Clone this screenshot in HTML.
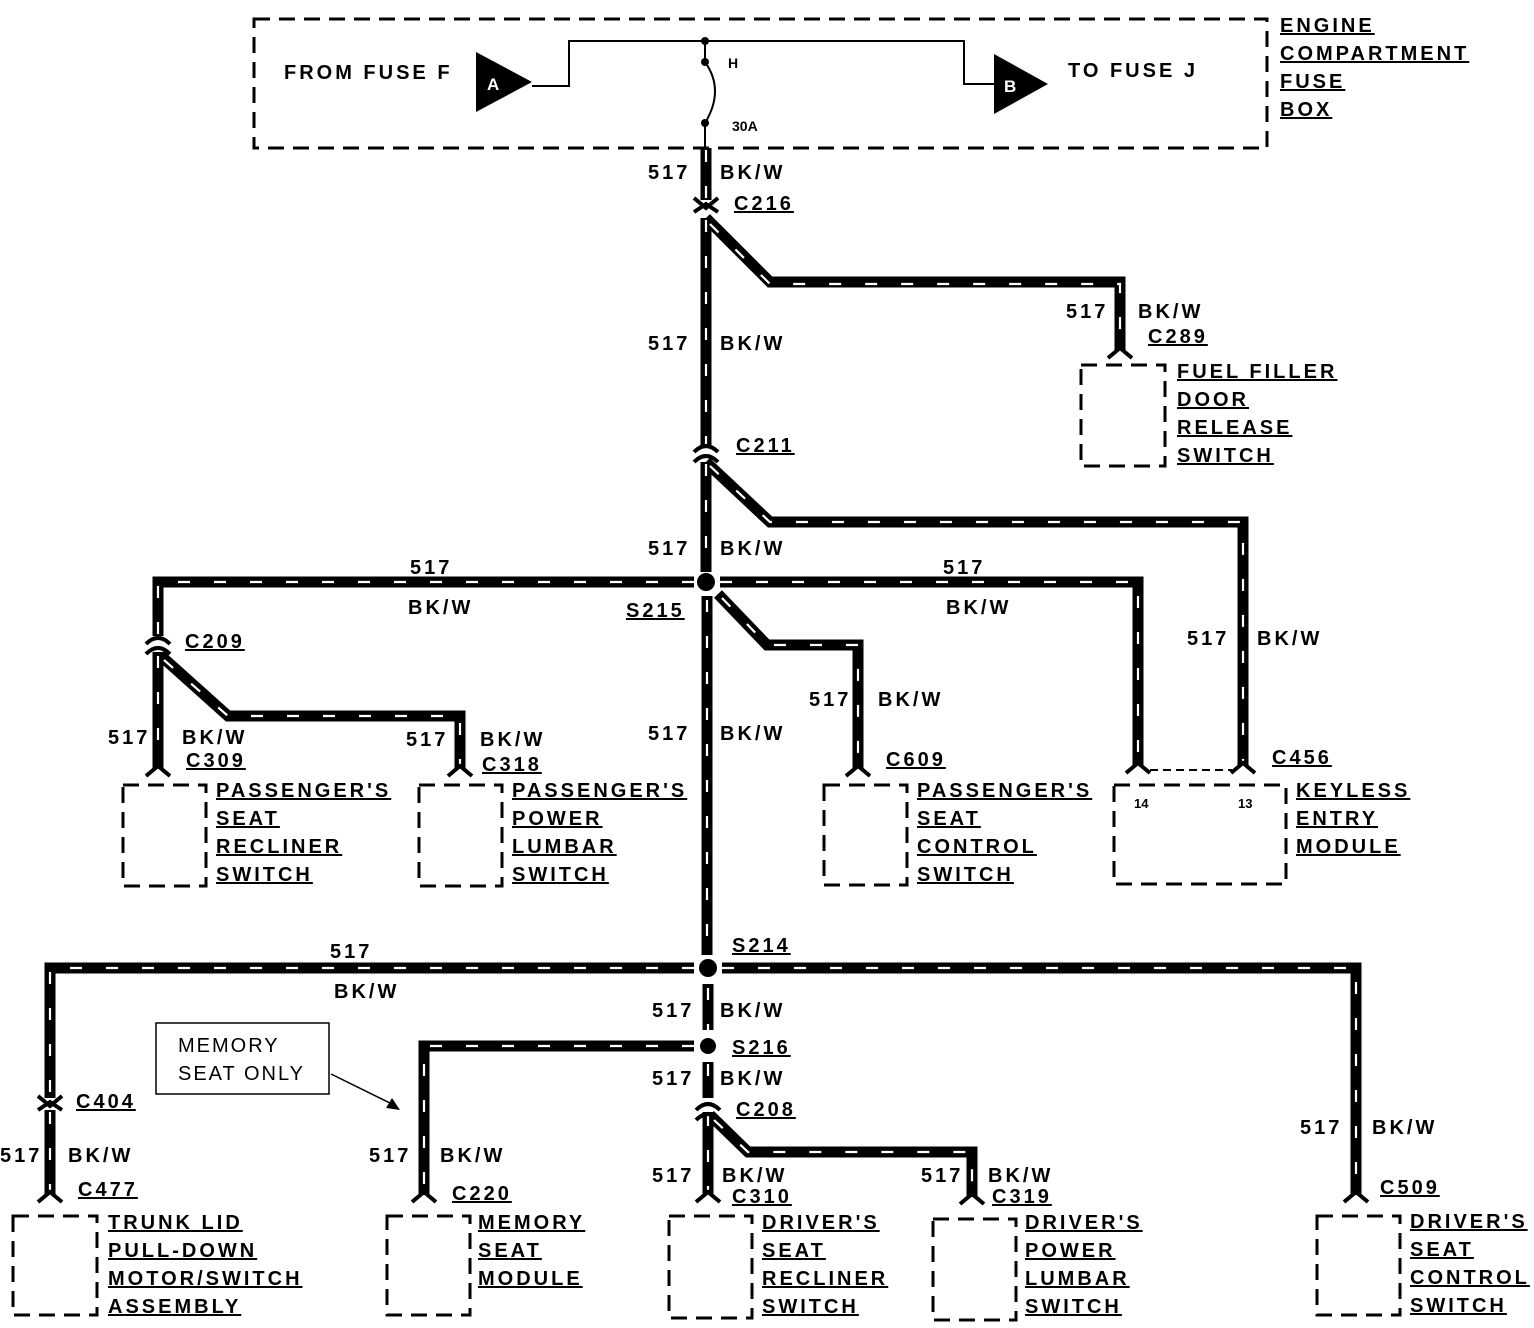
<!DOCTYPE html>
<html><head><meta charset="utf-8"><style>
html,body{margin:0;padding:0;background:#fff}
svg{display:block}
text{font-family:"Liberation Sans",sans-serif;font-weight:bold;font-size:20px;letter-spacing:3px;fill:#000}
.u{text-decoration:underline}
.w{fill:none;stroke:#000;stroke-width:11;stroke-linejoin:miter}
.d{fill:none;stroke:#fff;stroke-width:2.2;stroke-dasharray:12 24}
.b{fill:none;stroke:#000;stroke-width:3;stroke-dasharray:16 9}
.t{fill:none;stroke:#000;stroke-width:2}
.c{fill:none;stroke:#000;stroke-width:4}
</style></head><body>
<svg width="1534" height="1328" viewBox="0 0 1534 1328">
<rect x="254" y="19" width="1013" height="129" class="b"/>
<text x="284" y="79">FROM FUSE F</text>
<polygon points="476,52 476,112 532,82" fill="#000"/>
<text x="487" y="90" style="fill:#fff;font-size:17px;letter-spacing:0">A</text>
<polyline class="t" points="532,86 569,86 569,41 964,41 964,84 994,84"/>
<polygon points="994,54 994,114 1048,84" fill="#000"/>
<text x="1004" y="92" style="fill:#fff;font-size:17px;letter-spacing:0">B</text>
<text x="1068" y="77">TO FUSE J</text>
<circle cx="705" cy="41" r="4"/><circle cx="705" cy="62" r="4"/><circle cx="705" cy="123" r="4"/>
<line x1="705" y1="41" x2="705" y2="62" class="t"/>
<path d="M705,62 Q725,90 705,123" class="t"/>
<line x1="705" y1="123" x2="705" y2="148" class="t"/>
<text x="728" y="68" style="font-size:14px;letter-spacing:0">H</text>
<text x="732" y="131" style="font-size:14px;letter-spacing:0">30A</text>
<text x="1280" y="32" class="u">ENGINE</text>
<text x="1280" y="60" class="u">COMPARTMENT</text>
<text x="1280" y="88" class="u">FUSE</text>
<text x="1280" y="116" class="u">BOX</text>

<g>
<path class="w" d="M706,148 V200"/>
<path class="w" d="M706,218 V445 M706,218 L770,282 H1120 V350"/>
<path class="w" d="M706,462 V572 M706,462 L770,522 H1243 V765"/>
<path class="w" d="M694,582 H158 V636 M720,582 H1138 V765 M718,594 L767,645 H858 V768"/>
<path class="w" d="M158,652 V768 M160,655 L228,716 H460 V768"/>
<path class="w" d="M707,596 V955"/>
<path class="w" d="M694,968 H50 V1098 M50,1110 V1195 M722,968 H1356 V1195"/>
<path class="w" d="M708,984 V1030"/>
<path class="w" d="M694,1046 H424 V1195"/>
<path class="w" d="M708,1062 V1098"/>
<path class="w" d="M708,1112 V1195 M710,1115 L748,1152 H972 V1197"/>
</g>
<g>
<path class="d" d="M706,150 V200 M706,220 V445 M710,224 L770,284 H1120 V350 M706,464 V572 M710,466 L770,522 H1243 V765 M694,582 H158 V636 M720,582 H1138 V765 M722,598 L767,645 H858 V768 M158,656 V768 M164,660 L228,716 H460 V768 M707,600 V955 M694,968 H50 V1098 M50,1112 V1195 M722,968 H1356 V1195 M708,988 V1030 M694,1046 H424 V1195 M708,1064 V1098 M708,1114 V1195 M714,1120 L748,1152 H972 V1197"/>
</g>
<circle cx="706" cy="582" r="9"/><circle cx="708" cy="968" r="9"/><circle cx="708" cy="1046" r="8"/>
<g class="c">
<path d="M694,198 L706,208 L718,198 M694,212 L706,204 L718,212"/>
<path d="M694,452 Q706,440 718,452 M694,462 Q706,450 718,462"/>
<path d="M146,644 Q158,632 170,644 M146,654 Q158,642 170,654"/>
<path d="M38,1096 L50,1106 L62,1096 M38,1110 L50,1102 L62,1110"/>
<path d="M696,1110 Q708,1098 720,1110 M696,1120 Q708,1108 720,1120"/>
<path d="M1108,358 L1120,348 L1132,358"/>
<path d="M146,776 L158,766 L170,776"/><path d="M448,776 L460,766 L472,776"/>
<path d="M846,776 L858,766 L870,776"/><path d="M1126,773 L1138,763 L1150,773"/><path d="M1231,773 L1243,763 L1255,773"/>
<path d="M38,1202 L50,1192 L62,1202"/><path d="M412,1202 L424,1192 L436,1202"/><path d="M696,1202 L708,1192 L720,1202"/><path d="M960,1204 L972,1194 L984,1204"/><path d="M1344,1202 L1356,1192 L1368,1202"/>
</g>
<line x1="1150" y1="770" x2="1232" y2="770" class="t" stroke-dasharray="8 5"/>
<rect x="1081" y="365" width="84" height="101" class="b"/>
<rect x="123" y="785" width="83" height="101" class="b"/>
<rect x="419" y="785" width="83" height="101" class="b"/>
<rect x="824" y="785" width="83" height="100" class="b"/>
<rect x="1114" y="785" width="172" height="99" class="b"/>
<rect x="13" y="1216" width="84" height="99" class="b"/>
<rect x="387" y="1216" width="83" height="99" class="b"/>
<rect x="669" y="1216" width="83" height="102" class="b"/>
<rect x="933" y="1219" width="83" height="101" class="b"/>
<rect x="1317" y="1216" width="83" height="99" class="b"/>
<text x="648" y="179">517</text><text x="720" y="179">BK/W</text>
<text x="734" y="210" class="u">C216</text>
<text x="648" y="350">517</text><text x="720" y="350">BK/W</text>
<text x="1066" y="318">517</text><text x="1138" y="318">BK/W</text>
<text x="1148" y="343" class="u">C289</text>
<text x="1177" y="378" class="u">FUEL FILLER</text><text x="1177" y="406" class="u">DOOR</text><text x="1177" y="434" class="u">RELEASE</text><text x="1177" y="462" class="u">SWITCH</text>
<text x="736" y="452" class="u">C211</text>
<text x="648" y="555">517</text><text x="720" y="555">BK/W</text>
<text x="410" y="574">517</text><text x="408" y="614">BK/W</text>
<text x="943" y="574">517</text><text x="946" y="614">BK/W</text>
<text x="626" y="617" class="u">S215</text>
<text x="185" y="648" class="u">C209</text>
<text x="1187" y="645">517</text><text x="1257" y="645">BK/W</text>
<text x="809" y="706">517</text><text x="878" y="706">BK/W</text>
<text x="108" y="744">517</text><text x="182" y="744">BK/W</text><text x="186" y="767" class="u">C309</text>
<text x="406" y="746">517</text><text x="480" y="746">BK/W</text><text x="482" y="771" class="u">C318</text>
<text x="648" y="740">517</text><text x="720" y="740">BK/W</text>
<text x="886" y="766" class="u">C609</text>
<text x="1272" y="764" class="u">C456</text>
<text x="1134" y="808" style="font-size:13px;letter-spacing:0">14</text><text x="1238" y="808" style="font-size:13px;letter-spacing:0">13</text>
<text x="216" y="797" class="u">PASSENGER'S</text><text x="216" y="825" class="u">SEAT</text><text x="216" y="853" class="u">RECLINER</text><text x="216" y="881" class="u">SWITCH</text>
<text x="512" y="797" class="u">PASSENGER'S</text><text x="512" y="825" class="u">POWER</text><text x="512" y="853" class="u">LUMBAR</text><text x="512" y="881" class="u">SWITCH</text>
<text x="917" y="797" class="u">PASSENGER'S</text><text x="917" y="825" class="u">SEAT</text><text x="917" y="853" class="u">CONTROL</text><text x="917" y="881" class="u">SWITCH</text>
<text x="1296" y="797" class="u">KEYLESS</text><text x="1296" y="825" class="u">ENTRY</text><text x="1296" y="853" class="u">MODULE</text>
<text x="732" y="952" class="u">S214</text>
<text x="330" y="958">517</text><text x="334" y="998">BK/W</text>
<text x="652" y="1017">517</text><text x="720" y="1017">BK/W</text>
<text x="732" y="1054" class="u">S216</text>
<text x="652" y="1085">517</text><text x="720" y="1085">BK/W</text>
<text x="736" y="1116" class="u">C208</text>
<rect x="156" y="1023" width="173" height="71" fill="none" stroke="#000" stroke-width="1.5"/>
<text x="178" y="1052" style="font-weight:normal;letter-spacing:2px">MEMORY</text><text x="178" y="1080" style="font-weight:normal;letter-spacing:2px">SEAT ONLY</text>
<line x1="331" y1="1074" x2="396" y2="1106" stroke="#000" stroke-width="1.5"/>
<polygon points="400,1110 386,1108 392,1098" fill="#000"/>
<text x="76" y="1108" class="u">C404</text>
<text x="0" y="1162">517</text><text x="68" y="1162">BK/W</text>
<text x="78" y="1196" class="u">C477</text>
<text x="369" y="1162">517</text><text x="440" y="1162">BK/W</text>
<text x="452" y="1200" class="u">C220</text>
<text x="652" y="1182">517</text><text x="722" y="1182">BK/W</text><text x="732" y="1203" class="u">C310</text>
<text x="921" y="1182">517</text><text x="988" y="1182">BK/W</text><text x="992" y="1203" class="u">C319</text>
<text x="1300" y="1134">517</text><text x="1372" y="1134">BK/W</text>
<text x="1380" y="1194" class="u">C509</text>
<text x="108" y="1229" class="u">TRUNK LID</text><text x="108" y="1257" class="u">PULL-DOWN</text><text x="108" y="1285" class="u">MOTOR/SWITCH</text><text x="108" y="1313" class="u">ASSEMBLY</text>
<text x="478" y="1229" class="u">MEMORY</text><text x="478" y="1257" class="u">SEAT</text><text x="478" y="1285" class="u">MODULE</text>
<text x="762" y="1229" class="u">DRIVER'S</text><text x="762" y="1257" class="u">SEAT</text><text x="762" y="1285" class="u">RECLINER</text><text x="762" y="1313" class="u">SWITCH</text>
<text x="1025" y="1229" class="u">DRIVER'S</text><text x="1025" y="1257" class="u">POWER</text><text x="1025" y="1285" class="u">LUMBAR</text><text x="1025" y="1313" class="u">SWITCH</text>
<text x="1410" y="1228" class="u">DRIVER'S</text><text x="1410" y="1256" class="u">SEAT</text><text x="1410" y="1284" class="u">CONTROL</text><text x="1410" y="1312" class="u">SWITCH</text>
</svg>
</body></html>
